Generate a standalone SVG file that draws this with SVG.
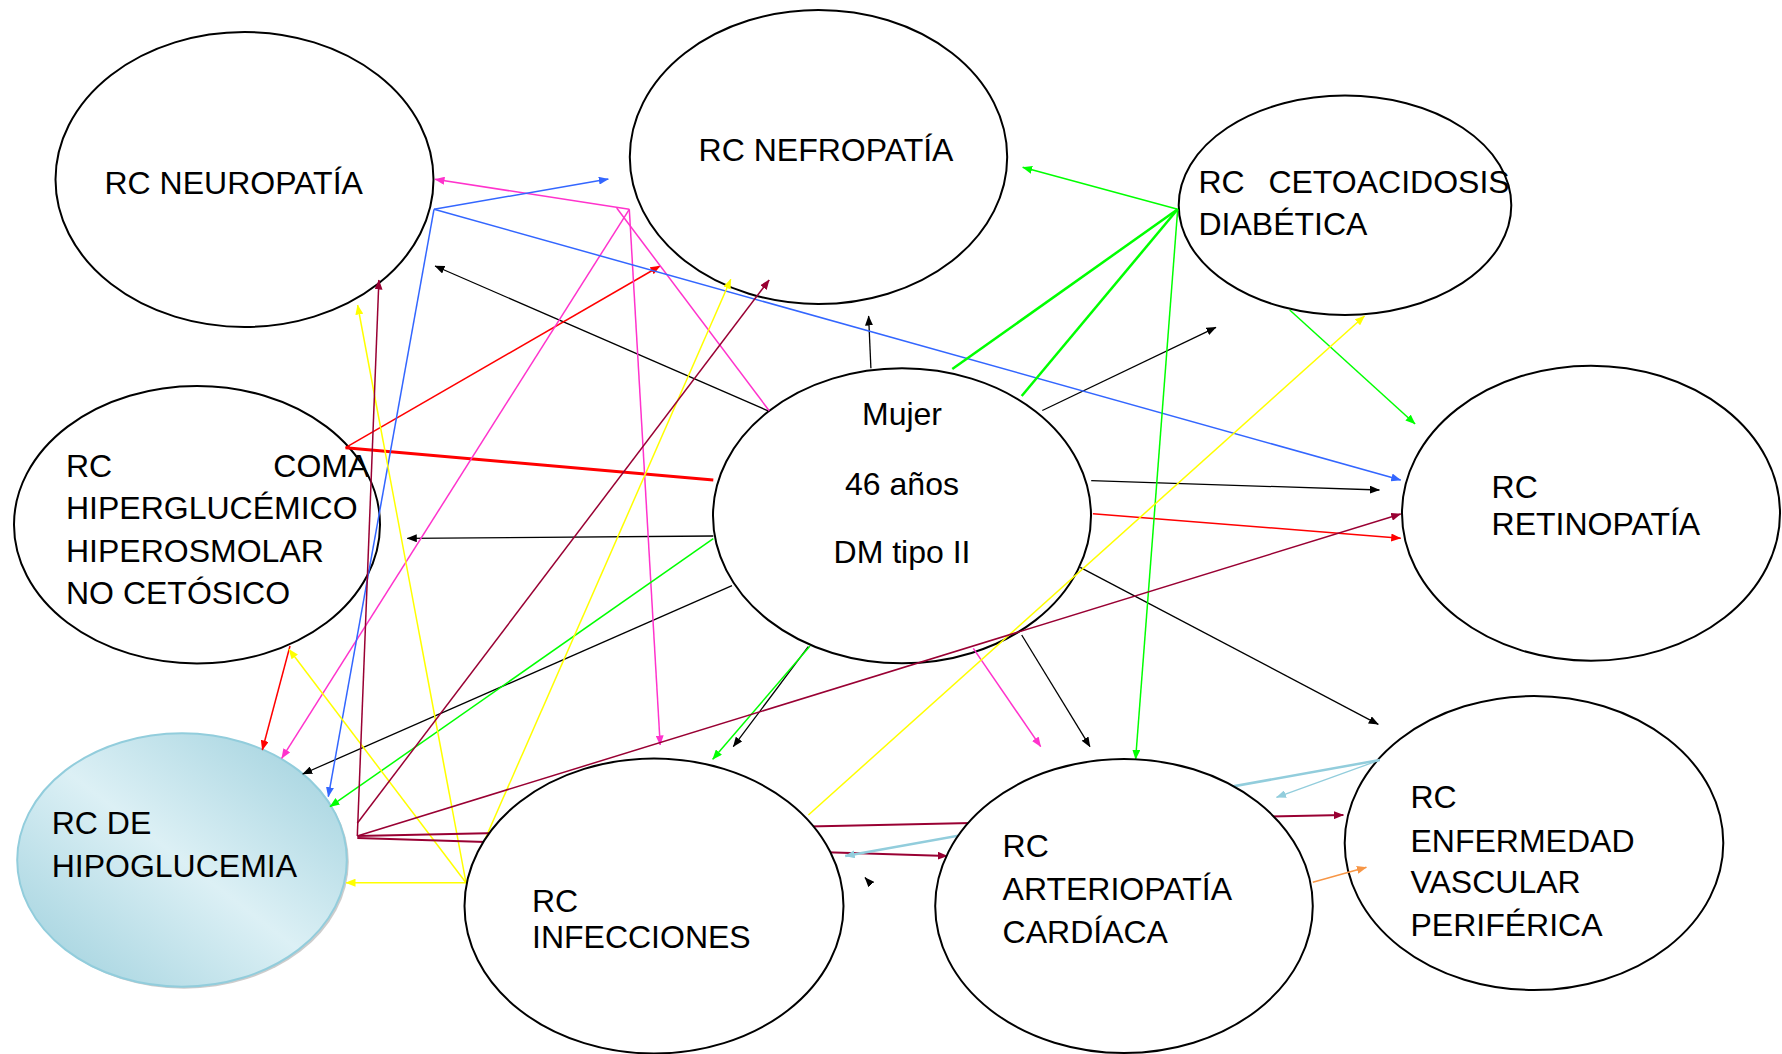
<svg xmlns="http://www.w3.org/2000/svg" width="1782" height="1054" viewBox="0 0 1782 1054">
<style>
.n{fill:#fff;stroke:#000;stroke-width:2}
.t{font-family:"Liberation Sans",Arial,sans-serif;font-size:32px;fill:#000}
.c{fill:none;stroke-width:1.5}
.k{stroke:#000;stroke-width:1.3}
.r{stroke:#ff0000}
.p{stroke:#ff33cc}
.b{stroke:#3366ff}
.g{stroke:#00ff00}
.y{stroke:#ffff00}
.m{stroke:#990033}
.l{stroke:#92cddc}
.o{stroke:#f79646}
</style>
<defs>
<linearGradient id="hg" x1="0" y1="1" x2="1" y2="0">
<stop offset="0" stop-color="#9ccfdc"/>
<stop offset="0.5" stop-color="#dcf0f5"/>
<stop offset="1" stop-color="#9ccfdc"/>
</linearGradient>
<marker id="ak" viewBox="0 0 10 8" refX="9.5" refY="4" markerWidth="10" markerHeight="8" markerUnits="userSpaceOnUse" orient="auto"><path d="M0,0 L10,4 L0,8 z" fill="#000"/></marker>
<marker id="ar" viewBox="0 0 10 8" refX="9.5" refY="4" markerWidth="10" markerHeight="8" markerUnits="userSpaceOnUse" orient="auto"><path d="M0,0 L10,4 L0,8 z" fill="#ff0000"/></marker>
<marker id="ap" viewBox="0 0 10 8" refX="9.5" refY="4" markerWidth="10" markerHeight="8" markerUnits="userSpaceOnUse" orient="auto"><path d="M0,0 L10,4 L0,8 z" fill="#ff33cc"/></marker>
<marker id="ab" viewBox="0 0 10 8" refX="9.5" refY="4" markerWidth="10" markerHeight="8" markerUnits="userSpaceOnUse" orient="auto"><path d="M0,0 L10,4 L0,8 z" fill="#3366ff"/></marker>
<marker id="ag" viewBox="0 0 10 8" refX="9.5" refY="4" markerWidth="10" markerHeight="8" markerUnits="userSpaceOnUse" orient="auto"><path d="M0,0 L10,4 L0,8 z" fill="#00ff00"/></marker>
<marker id="ay" viewBox="0 0 10 8" refX="9.5" refY="4" markerWidth="10" markerHeight="8" markerUnits="userSpaceOnUse" orient="auto"><path d="M0,0 L10,4 L0,8 z" fill="#ffff00"/></marker>
<marker id="am" viewBox="0 0 10 8" refX="9.5" refY="4" markerWidth="10" markerHeight="8" markerUnits="userSpaceOnUse" orient="auto"><path d="M0,0 L10,4 L0,8 z" fill="#990033"/></marker>
<marker id="al" viewBox="0 0 10 8" refX="9.5" refY="4" markerWidth="10" markerHeight="8" markerUnits="userSpaceOnUse" orient="auto"><path d="M0,0 L10,4 L0,8 z" fill="#92cddc"/></marker>
<marker id="ao" viewBox="0 0 10 8" refX="9.5" refY="4" markerWidth="10" markerHeight="8" markerUnits="userSpaceOnUse" orient="auto"><path d="M0,0 L10,4 L0,8 z" fill="#f79646"/></marker>
</defs>
<rect width="1782" height="1054" fill="#fff"/>

<g id="node-neuropatia">
<ellipse class="n" cx="244.5" cy="179.5" rx="189" ry="147.5"/>
<text class="t" x="104.5" y="194">RC NEUROPATÍA</text>
</g>
<g id="node-nefropatia">
<ellipse class="n" cx="818.5" cy="157" rx="188.7" ry="147"/>
<text class="t" x="698.6" y="161">RC NEFROPATÍA</text>
</g>
<g id="node-cetoacidosis">
<ellipse class="n" cx="1345" cy="205.3" rx="166.3" ry="109.7"/>
<text class="t" x="1198.5" y="193.3">RC</text>
<text class="t" x="1268.4" y="193.3">CETOACIDOSIS</text>
<text class="t" x="1198.5" y="235">DIABÉTICA</text>
</g>
<g id="node-coma">
<ellipse class="n" cx="197" cy="524.7" rx="183" ry="138.7"/>
<text class="t" x="66" y="477.3">RC</text>
<text class="t" x="273.3" y="477.3">COMA</text>
<text class="t" x="66" y="519.3">HIPERGLUCÉMICO</text>
<text class="t" x="66" y="562.3">HIPEROSMOLAR</text>
<text class="t" x="66" y="604.3">NO CETÓSICO</text>
</g>
<g id="node-mujer">
<ellipse class="n" cx="902" cy="515.8" rx="189" ry="147.5"/>
<text class="t" x="902" y="425" text-anchor="middle">Mujer</text>
<text class="t" x="902" y="495" text-anchor="middle">46 años</text>
<text class="t" x="902" y="563" text-anchor="middle">DM tipo II</text>
</g>
<g id="node-retinopatia">
<ellipse class="n" cx="1591" cy="513.2" rx="189" ry="147.5"/>
<text class="t" x="1491.6" y="498.3">RC</text>
<text class="t" x="1491.6" y="535">RETINOPATÍA</text>
</g>
<g id="node-hipoglucemia">
<ellipse cx="184" cy="862" rx="164.8" ry="126.7" fill="#9a9a9a" opacity="0.5"/>
<ellipse cx="182" cy="860" rx="164.8" ry="126.7" fill="url(#hg)" stroke="#92cddc" stroke-width="2"/>
<text class="t" x="51.7" y="834.3">RC DE</text>
<text class="t" x="51.7" y="877.3">HIPOGLUCEMIA</text>
</g>
<g id="node-enfermedad">
<ellipse class="n" cx="1534" cy="843" rx="189.3" ry="147"/>
<text class="t" x="1410.5" y="808.3">RC</text>
<text class="t" x="1410.5" y="851.7">ENFERMEDAD</text>
<text class="t" x="1410.5" y="893.3">VASCULAR</text>
<text class="t" x="1410.5" y="936">PERIFÉRICA</text>
</g>

<g id="connectors" class="c">
<path class="k" d="M769.2,411.3 L435,266" marker-end="url(#ak)"/>
<path class="k" d="M870.9,368.3 L868.6,316" marker-end="url(#ak)"/>
<path class="k" d="M1042.3,410.5 L1216,327.3" marker-end="url(#ak)"/>
<path class="k" d="M1091.2,480.7 L1379.4,490" marker-end="url(#ak)"/>
<path class="k" d="M713.3,536 L407.3,538.3" marker-end="url(#ak)"/>
<path class="k" d="M732,585.7 L302.7,774" marker-end="url(#ak)"/>
<path class="k" d="M808.3,646.7 L733.3,746.7" marker-end="url(#ak)"/>
<path class="k" d="M1021.7,635 L1090,746.7" marker-end="url(#ak)"/>
<path class="k" d="M1080.2,567.3 L1378.3,724.3" marker-end="url(#ak)"/>
<path class="k" d="M870,883 L865,877.5" marker-end="url(#ak)"/>

<path class="r" stroke-width="3" d="M713.3,480 L345.5,447.7"/>
<path class="r" d="M345.5,447.7 L660,266" marker-end="url(#ar)"/>
<path class="r" d="M1092.9,513.7 L1400.7,538.3" marker-end="url(#ar)"/>
<path class="r" d="M290,646 L262.3,750" marker-end="url(#ar)"/>

<path class="p" d="M769.2,410.7 L616.7,208"/>
<path class="p" d="M629.3,209.3 L435,179.3" marker-end="url(#ap)"/>
<path class="p" d="M629.3,209.3 L660.2,745" marker-end="url(#ap)"/>
<path class="p" d="M629.3,209.3 L281.7,758.3" marker-end="url(#ap)"/>
<path class="p" d="M973.3,648.3 L1040.7,746.7" marker-end="url(#ap)"/>

<path class="b" d="M434,209.3 L608.3,179" marker-end="url(#ab)"/>
<path class="b" d="M434,209.3 L1400.7,480" marker-end="url(#ab)"/>
<path class="b" d="M434,209.3 L328.3,796.7" marker-end="url(#ab)"/>

<path class="g" d="M1177.7,209.3 L1022.7,167.3" marker-end="url(#ag)"/>
<path class="g" stroke-width="2.5" d="M1177.7,209.3 L952.3,369"/>
<path class="g" stroke-width="2.5" d="M1177.7,209.3 L1021.7,396"/>
<path class="g" d="M1177.7,209.3 L1135.6,759.3" marker-end="url(#ag)"/>
<path class="g" d="M1289.7,310 L1415.1,424" marker-end="url(#ag)"/>
<path class="g" d="M713.3,538.7 L330,806.7" marker-end="url(#ag)"/>
<path class="g" d="M810,646 L712.7,759.3" marker-end="url(#ag)"/>

<path class="y" d="M466,882.7 L346,882.7" marker-end="url(#ay)"/>
<path class="y" d="M466,882.7 L357.6,305" marker-end="url(#ay)"/>
<path class="y" d="M466,882.7 L289,649.3" marker-end="url(#ay)"/>
<path class="y" d="M466,882.7 L730.8,279.3" marker-end="url(#ay)"/>
<path class="y" d="M808.4,815 L1364.5,316" marker-end="url(#ay)"/>

<path class="m" d="M357.3,836 L378.9,280" marker-end="url(#am)"/>
<path class="m" d="M357.3,823.3 L769.2,280" marker-end="url(#am)"/>
<path class="m" d="M357.3,836 L1400.7,514" marker-end="url(#am)"/>
<path class="m" stroke-width="2" d="M357.3,836 L1343.4,815" marker-end="url(#am)"/>
<path class="m" stroke-width="2" d="M357.3,838 L947.3,856" marker-end="url(#am)"/>

<path class="l" stroke-width="2.5" d="M1379.8,760 L845.2,856" marker-end="url(#al)"/>
<path class="l" stroke-width="1.3" d="M1379.8,760 L1276.5,797.3" marker-end="url(#al)"/>

<path class="o" d="M1312.8,882.3 L1366.4,867.3" marker-end="url(#ao)"/>
</g>

<g id="node-infecciones">
<ellipse class="n" cx="654" cy="906" rx="189.5" ry="147.5"/>
<text class="t" x="532" y="912.3">RC</text>
<text class="t" x="532" y="948.3">INFECCIONES</text>
</g>
<g id="node-arteriopatia">
<ellipse class="n" cx="1124" cy="906" rx="188.8" ry="147"/>
<text class="t" x="1002.6" y="856.7">RC</text>
<text class="t" x="1002.6" y="900">ARTERIOPATÍA</text>
<text class="t" x="1002.6" y="942.7">CARDÍACA</text>
</g>
</svg>
